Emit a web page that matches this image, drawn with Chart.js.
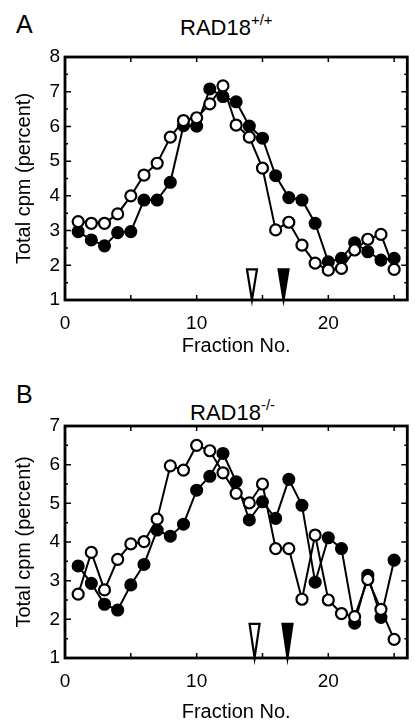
<!DOCTYPE html>
<html lang="en">
<head>
<meta charset="UTF-8">
<title>RAD18 fractions</title>
<script src="https://cdn.jsdelivr.net/npm/chart.js"></script>
<style>
  body { margin: 0; width: 415px; height: 728px; position: relative; background: #fff; overflow: hidden;
         font-family: "Liberation Sans", Arial, sans-serif; color: #000; }
  canvas { position: absolute; left: 0; }
  #chartA { top: 0; }
  #chartB { top: 362px; }
  .letter { position: absolute; left: 16px; font-size: 25px; line-height: 1; }
  .title { position: absolute; font-size: 22px; line-height: 1; white-space: nowrap; }
  .title sup { font-size: 15px; position: relative; top: -2px; }
</style>
</head>
<body>
<div class="letter" style="top:12px">A</div>
<div class="title" style="left:180px; top:14px">RAD18<sup>+/+</sup></div>
<canvas id="chartA" width="415" height="362"></canvas>

<div class="letter" style="top:382px">B</div>
<div class="title" style="left:190px; top:399px">RAD18<sup>-/-</sup></div>
<canvas id="chartB" width="415" height="366"></canvas>

<script>
// fraction numbers
const fractions = [1, 2, 3, 4, 5, 6, 7, 8, 9, 10, 11, 12, 13, 14, 15, 16, 17, 18, 19, 20, 21, 22, 23, 24, 25];

// panel A, RAD18+/+
const aOpen   = [3.26, 3.21, 3.21, 3.48, 4.00, 4.60, 4.94, 5.69, 6.17, 6.25, 6.65, 7.17, 6.04,
                 5.69, 4.80, 3.02, 3.24, 2.58, 2.06, 1.86, 1.91, 2.44, 2.75, 2.89, 1.88];
const aFilled = [2.97, 2.73, 2.56, 2.94, 2.97, 3.88, 3.88, 4.39, 6.02, 6.01, 7.08, 6.86, 6.71,
                 6.01, 5.66, 4.58, 3.95, 3.88, 3.21, 2.10, 2.20, 2.65, 2.39, 2.15, 2.20];
const aArrows = [14.2, 16.6];   // open, filled
const aYTicks = [1, 2, 3, 4, 5, 6, 7, 8];

// panel B, RAD18-/-
const bOpen   = [2.65, 3.73, 2.76, 3.55, 3.95, 4.01, 4.59, 5.97, 5.86, 6.50, 6.36, 5.79, 5.26,
                 5.01, 5.50, 3.83, 3.83, 2.52, 4.18, 2.50, 2.15, 2.07, 3.03, 2.26, 1.48];
const bFilled = [3.38, 2.93, 2.39, 2.24, 2.89, 3.42, 4.31, 4.15, 4.46, 5.34, 5.70, 6.29, 5.56,
                 4.57, 5.04, 4.61, 5.62, 4.95, 2.96, 4.11, 3.83, 1.90, 3.14, 2.05, 3.53];
const bArrows = [14.4, 16.9];
const bYTicks = [1, 2, 3, 4, 5, 6, 7];

const xTicks = [0, 10, 20];

// frame, inward ticks and the two arrowheads
const framePlugin = {
  id: 'frame',
  afterDatasetsDraw(chart, args, opts) {
    const { ctx, chartArea: a, scales: { x, y } } = chart;
    ctx.save();
    ctx.strokeStyle = '#000';
    ctx.lineWidth = 1.5;
    ctx.beginPath();
    for (let v = 0; v <= x.max; v += 5) {
      const px = x.getPixelForValue(v);
      ctx.moveTo(px, a.top); ctx.lineTo(px, a.top + 5);
      ctx.moveTo(px, a.bottom); ctx.lineTo(px, a.bottom - 5);
    }
    for (let v = y.min; v <= y.max; v += 0.5) {
      const py = y.getPixelForValue(v);
      const len = Number.isInteger(v) ? 6 : 3;
      ctx.moveTo(a.left, py); ctx.lineTo(a.left + len, py);
      ctx.moveTo(a.right, py); ctx.lineTo(a.right - len, py);
    }
    ctx.stroke();

    opts.arrows.forEach((v, i) => {
      const px = x.getPixelForValue(v);
      const top = y.getPixelForValue(y.min + opts.arrowTop);
      ctx.beginPath();
      ctx.moveTo(px - 5, top);
      ctx.lineTo(px + 5, top);
      ctx.lineTo(px, a.bottom);
      ctx.closePath();
      ctx.fillStyle = i === 0 ? '#fff' : '#000';
      ctx.fill();
      ctx.lineWidth = 2.2;
      ctx.stroke();
    });

    ctx.lineWidth = 2.8;
    ctx.strokeRect(a.left, a.top, a.width, a.height);
    ctx.restore();
  }
};

function series(vals) {
  return vals.map((v, i) => ({ x: fractions[i], y: v }));
}

function makeChart(id, open, filled, yTicks, arrows, padTop, xHeight) {
  return new Chart(document.getElementById(id), {
    type: 'line',
    data: {
      datasets: [
        {
          data: series(open),
          borderColor: '#000', borderWidth: 2,
          pointRadius: 5.5, pointBorderWidth: 2.2,
          pointBackgroundColor: '#fff', pointBorderColor: '#000'
        },
        {
          data: series(filled),
          borderColor: '#000', borderWidth: 2,
          pointRadius: 5.8, pointBorderWidth: 1.5,
          pointBackgroundColor: '#000', pointBorderColor: '#000'
        }
      ]
    },
    options: {
      responsive: false,
      animation: false,
      layout: { padding: { top: padTop, right: 2, left: 0, bottom: 0 } },
      plugins: {
        legend: { display: false },
        tooltip: { enabled: false },
        frame: { arrows: arrows, arrowTop: 0.88 }
      },
      scales: {
        x: {
          type: 'linear', min: 0, max: 26,
          afterBuildTicks: s => { s.ticks = xTicks.map(v => ({ value: v })); },
          afterFit: s => { s.height = xHeight; },
          grid: { display: false, drawTicks: false },
          border: { display: false },
          ticks: { color: '#000', font: { size: 19, family: 'Liberation Sans' }, padding: 12 },
          title: { display: true, text: 'Fraction No.', color: '#000',
                   font: { size: 20, family: 'Liberation Sans' }, padding: { top: 1 } }
        },
        y: {
          min: yTicks[0], max: yTicks[yTicks.length - 1],
          afterBuildTicks: s => { s.ticks = yTicks.map(v => ({ value: v })); },
          afterFit: s => { s.width = 65; },
          grid: { display: false, drawTicks: false },
          border: { display: false },
          ticks: { color: '#000', font: { size: 19, family: 'Liberation Sans' }, padding: 5 },
          title: { display: true, text: 'Total cpm (percent)', color: '#000',
                   font: { size: 20, family: 'Liberation Sans' }, padding: { top: 12 } }
        }
      }
    },
    plugins: [framePlugin]
  });
}

makeChart('chartA', aOpen, aFilled, aYTicks, aArrows, 57, 62);
makeChart('chartB', bOpen, bFilled, bYTicks, bArrows, 64, 70);
</script>
</body>
</html>
